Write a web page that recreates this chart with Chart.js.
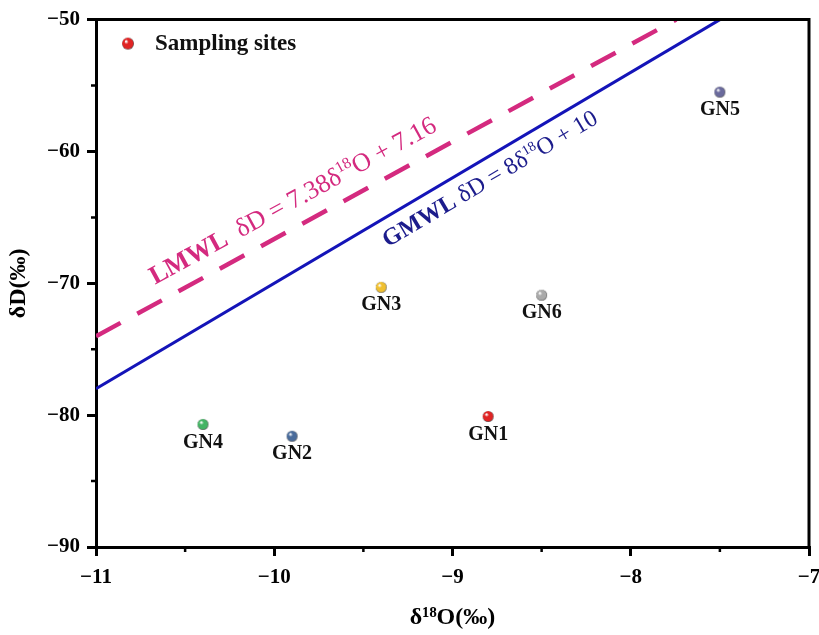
<!DOCTYPE html>
<html>
<head>
<meta charset="utf-8">
<script src="https://cdn.jsdelivr.net/npm/chart.js@4.4.1/dist/chart.umd.min.js"></script>
<style>
  html, body { margin:0; padding:0; background:#fff; overflow:hidden; }
  #wrap { width:830px; height:635px; }
</style>
</head>
<body>
<div id="wrap"><canvas id="c" width="830" height="635"></canvas></div>
<script>
// sampling sites
const sites = ['GN1', 'GN2', 'GN3', 'GN4', 'GN5', 'GN6'];
const d18O  = [-8.80, -9.90, -9.40, -10.40, -7.50, -8.50];
const dD    = [-80.1, -81.6, -70.3, -80.7, -55.5, -70.9];
const siteColors = ['#e02424', '#4a6c9c', '#f0c030', '#44b464', '#6a6a9c', '#aaaaaa'];

// meteoric water lines (end points)
const gmwlX = [-11, -7.5];
const gmwlY = [-78, -50];
const lmwlX = [-11, -7.745];
const lmwlY = [-74.02, -50];

const xTicks = [-11, -10, -9, -8, -7];
const yTicks = [-90, -80, -70, -60, -50];

const SERIF = '"Liberation Serif", "Times New Roman", serif';
const fmt = v => (v < 0 ? '\u2212' + Math.abs(v) : String(v));

function sphere(color, r){
  const c = document.createElement('canvas');
  const s = Math.ceil(r*2 + 2);
  c.width = s; c.height = s;
  const g = c.getContext('2d');
  const m = s/2;
  const grd = g.createRadialGradient(m - r*0.35, m - r*0.4, r*0.1, m, m, r);
  grd.addColorStop(0, '#ffffff');
  grd.addColorStop(0.3, color);
  grd.addColorStop(0.85, color);
  grd.addColorStop(1, 'rgba(60,60,60,0.9)');
  g.fillStyle = grd;
  g.beginPath(); g.arc(m, m, r, 0, Math.PI*2); g.fill();
  return c;
}
const siteIcons = siteColors.map(c => sphere(c, 5.5));

const lineLabels = [
  {ds:1, at:-10.624, off:-17, color:'#d42a7f', size:26,
   parts:[['LMWL', true], ['  \u03b4D = 7.38\u03b4'], ['18', false, true], ['O + 7.16']]},
  {ds:0, at:-9.44, off:27, color:'#1c1c8c', size:24,
   parts:[['GMWL', true], [' \u03b4D = 8\u03b4'], ['18', false, true], ['O + 10']]}
];

const decor = {
  id:'decor',
  afterDatasetsDraw(chart){
    const {ctx, scales:{x, y}} = chart;
    // line labels
    lineLabels.forEach(l => {
      const xs = l.ds === 0 ? gmwlX : lmwlX, ys = l.ds === 0 ? gmwlY : lmwlY;
      const x0 = x.getPixelForValue(xs[0]), y0 = y.getPixelForValue(ys[0]);
      const x1 = x.getPixelForValue(xs[1]), y1 = y.getPixelForValue(ys[1]);
      const ang = Math.atan2(y1 - y0, x1 - x0);
      const px = x.getPixelForValue(l.at);
      const py = y0 + (px - x0) * (y1 - y0) / (x1 - x0);
      ctx.save();
      ctx.translate(px, py);
      ctx.rotate(ang);
      ctx.fillStyle = l.color;
      ctx.textBaseline = 'alphabetic';
      ctx.textAlign = 'left';
      let cx = 0;
      l.parts.forEach(([t, bold, sup]) => {
        const sz = sup ? Math.round(l.size*0.6) : l.size;
        ctx.font = (bold ? 'bold ' : '') + sz + 'px ' + SERIF;
        ctx.fillText(t, cx, l.off - (sup ? l.size*0.38 : 0));
        cx += ctx.measureText(t).width;
      });
      ctx.restore();
    });
    // site labels
    const meta = chart.getDatasetMeta(2);
    ctx.save();
    ctx.font = 'bold 20px ' + SERIF;
    ctx.fillStyle = '#111';
    ctx.textAlign = 'center';
    ctx.textBaseline = 'middle';
    meta.data.forEach((p, i) => ctx.fillText(sites[i], p.x, p.y + 18));
    ctx.restore();
  },
  afterDraw(chart){
    const {ctx, chartArea:a, scales:{x, y}} = chart;
    ctx.save();
    ctx.strokeStyle = '#000';
    ctx.lineWidth = 3;
    ctx.beginPath();
    ctx.moveTo(a.left, a.top); ctx.lineTo(a.right, a.top); ctx.lineTo(a.right, a.bottom);
    ctx.stroke();
    // minor ticks
    ctx.lineWidth = 2.5;
    ctx.beginPath();
    for (let i = 0; i < xTicks.length - 1; i++){
      const px = x.getPixelForValue((xTicks[i] + xTicks[i+1]) / 2);
      ctx.moveTo(px, a.bottom); ctx.lineTo(px, a.bottom + 5);
    }
    for (let i = 0; i < yTicks.length - 1; i++){
      const py = y.getPixelForValue((yTicks[i] + yTicks[i+1]) / 2);
      ctx.moveTo(a.left, py); ctx.lineTo(a.left - 5, py);
    }
    ctx.stroke();
    // legend
    ctx.drawImage(sphere(siteColors[0], 6), a.left + 25, a.top + 17);
    ctx.font = 'bold 23px ' + SERIF;
    ctx.fillStyle = '#111';
    ctx.textBaseline = 'middle';
    ctx.fillText('Sampling sites', a.left + 59, a.top + 24);
    ctx.restore();
  }
};

new Chart(document.getElementById('c'), {
  type:'scatter',
  data:{
    datasets:[
      {label:'GMWL', type:'line', data:gmwlX.map((v, i) => ({x:v, y:gmwlY[i]})),
       borderColor:'#1414b8', borderWidth:3, pointRadius:0, fill:false},
      {label:'LMWL', type:'line', data:lmwlX.map((v, i) => ({x:v, y:lmwlY[i]})),
       borderColor:'#d42a7f', borderWidth:4.5, borderDash:[28, 19], pointRadius:0, fill:false},
      {label:'Sampling sites', data:d18O.map((v, i) => ({x:v, y:dD[i]})),
       pointStyle:siteIcons, pointRadius:6}
    ]
  },
  options:{
    responsive:false,
    animation:false,
    devicePixelRatio:1,
    layout:{padding:{top:16, right:21, bottom:0, left:0}},
    plugins:{legend:{display:false}, tooltip:{enabled:false}},
    scales:{
      x:{
        type:'linear', min:-11, max:-7,
        afterBuildTicks: s => { s.ticks = xTicks.map(v => ({value:v})); },
        afterFit: s => { s.height = 88; },
        ticks:{callback:fmt, color:'#000', padding:9, font:{family:SERIF, size:21, weight:'bold'}},
        grid:{drawOnChartArea:false, tickLength:9, lineWidth:3, color:'#000'},
        border:{color:'#000', width:3},
        title:{display:true, text:'\u03b4\u00b9\u2078O(\u2030)', color:'#000',
               padding:{top:0, bottom:3}, font:{family:SERIF, size:24, weight:'bold'}}
      },
      y:{
        type:'linear', min:-90, max:-50,
        afterBuildTicks: s => { s.ticks = yTicks.map(v => ({value:v})); },
        afterFit: s => { s.width = 96; },
        ticks:{callback:fmt, color:'#000', padding:7, font:{family:SERIF, size:21, weight:'bold'}},
        grid:{drawOnChartArea:false, tickLength:9, lineWidth:3, color:'#000'},
        border:{color:'#000', width:3},
        title:{display:true, text:'\u03b4D(\u2030)', color:'#000',
               padding:{top:4, bottom:0}, font:{family:SERIF, size:24, weight:'bold'}}
      }
    }
  },
  plugins:[decor]
});
</script>
</body>
</html>
